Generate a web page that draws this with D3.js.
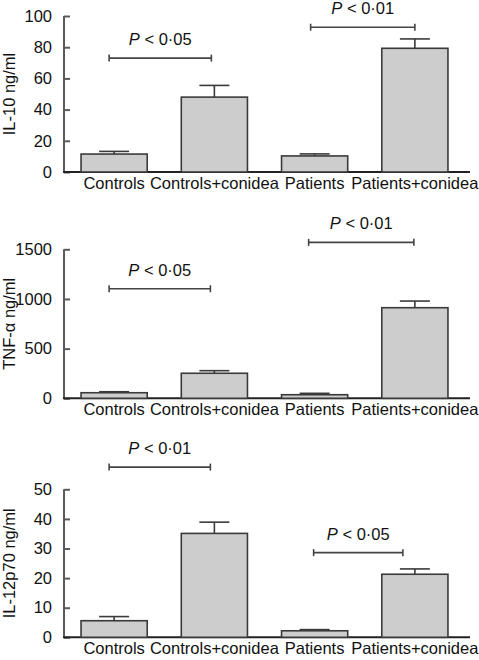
<!DOCTYPE html>
<html>
<head>
<meta charset="utf-8">
<script src="https://cdn.jsdelivr.net/npm/d3@7"></script>
<style>
  html, body { margin: 0; padding: 0; background: #fff; }
  svg { display: block; font-family: "Liberation Sans", Arial, Helvetica, sans-serif; }
</style>
</head>
<body>
<svg id="chart" width="479" height="660"></svg>
<script>
// ---- data ----
const categories = ["Controls", "Controls+conidea", "Patients", "Patients+conidea"];

const il10Means  = [11.5, 48, 10.3, 79.3];
const il10Errors = [1.7, 7.5, 1.3, 6];
const il10Ticks  = [0, 20, 40, 60, 80, 100];

const tnfMeans  = [56, 252, 36, 912];
const tnfErrors = [10, 26, 14, 67];
const tnfTicks  = [0, 500, 1000, 1500];

const il12Means  = [5.6, 35.1, 2.2, 21.3];
const il12Errors = [1.4, 3.8, 0.4, 1.8];
const il12Ticks  = [0, 10, 20, 30, 40, 50];

const yLabels = ["IL-10 ng/ml", "TNF-\u03b1 ng/ml", "IL-12p70 ng/ml"];

// significance brackets: [fromCategory, toCategory, yValue, p-text]
const il10Sig = [["Controls", "Controls+conidea", 73, "< 0\u00b705"], ["Patients", "Patients+conidea", 92.8, "< 0\u00b701"]];
const tnfSig  = [["Controls", "Controls+conidea", 1103, "< 0\u00b705"], ["Patients", "Patients+conidea", 1570, "< 0\u00b701"]];
const il12Sig = [["Controls", "Controls+conidea", 57.5, "< 0\u00b701"], ["Patients", "Patients+conidea", 28.6, "< 0\u00b705"]];

// ---- layout (positions / styles) ----
const panels = [
  { means: il10Means, errors: il10Errors, ticks: il10Ticks, label: yLabels[0], sig: il10Sig, top: 16, bottom: 172, sigOffsets: [[-5, -3], [-4, 0]] },
  { means: tnfMeans,  errors: tnfErrors,  ticks: tnfTicks,  label: yLabels[1], sig: tnfSig,  top: 249.3, bottom: 398.3, sigOffsets: [[-5, -4], [-6, -1]] },
  { means: il12Means, errors: il12Errors, ticks: il12Ticks, label: yLabels[2], sig: il12Sig, top: 489.3, bottom: 637.3, sigOffsets: [[-5, -4], [-1, -12]] }
];
const axisX = 64, axisColor = "#5a5a5a", barStroke = "#3a3a3a", barFill = "#cdcdcd";
const fontSize = 16.5;

const svg = d3.select("#chart");
const x = d3.scaleBand().domain(categories).range([64, 465]).paddingInner(0.34).paddingOuter(0.17);

panels.forEach(p => {
  const domainMax = p.ticks[p.ticks.length - 1];
  const y = d3.scaleLinear().domain([0, domainMax]).range([p.bottom, p.top]);
  const g = svg.append("g");

  // y axis line
  g.append("line").attr("x1", axisX).attr("x2", axisX).attr("y1", p.top).attr("y2", p.bottom)
    .attr("stroke", axisColor).attr("stroke-width", 2);
  // y ticks (inward)
  const yAxis = g.append("g").attr("transform", `translate(${axisX},0)`)
    .call(d3.axisLeft(y).tickValues(p.ticks).tickSize(-6).tickPadding(12).tickFormat(d3.format("d")));
  yAxis.select(".domain").remove();
  yAxis.selectAll(".tick line").attr("stroke", axisColor).attr("stroke-width", 2);
  yAxis.selectAll(".tick text").attr("font-size", fontSize).attr("fill", "#111")
    .attr("font-family", "Liberation Sans, Arial, sans-serif");

  // baseline
  g.append("line").attr("x1", axisX - 1).attr("x2", 470).attr("y1", p.bottom).attr("y2", p.bottom)
    .attr("stroke", "#222").attr("stroke-width", 2);

  // bars
  const data = categories.map((c, i) => ({ c, m: p.means[i], e: p.errors[i] }));
  // error bars
  const eb = g.selectAll(".eb").data(data).enter().append("g");
  eb.append("line")
    .attr("x1", d => x(d.c) + x.bandwidth() / 2).attr("x2", d => x(d.c) + x.bandwidth() / 2)
    .attr("y1", d => y(d.m)).attr("y2", d => y(d.m + d.e))
    .attr("stroke", barStroke).attr("stroke-width", 1.6);
  eb.append("line")
    .attr("x1", d => x(d.c) + x.bandwidth() / 2 - 15).attr("x2", d => x(d.c) + x.bandwidth() / 2 + 15)
    .attr("y1", d => y(d.m + d.e)).attr("y2", d => y(d.m + d.e))
    .attr("stroke", barStroke).attr("stroke-width", 1.6);
  g.selectAll(".bar").data(data).enter().append("rect")
    .attr("x", d => x(d.c)).attr("width", x.bandwidth())
    .attr("y", d => y(d.m)).attr("height", d => p.bottom - y(d.m))
    .attr("fill", barFill).attr("stroke", barStroke).attr("stroke-width", 1.6);

  // x labels
  g.selectAll(".xl").data(categories).enter().append("text")
    .attr("x", d => x(d) + x.bandwidth() / 2).attr("y", p.bottom + 17)
    .attr("text-anchor", "middle").attr("font-size", fontSize).attr("fill", "#111")
    .text(d => d);

  // y label
  g.append("text").attr("transform", `translate(15,${(p.top + p.bottom) / 2}) rotate(-90)`)
    .attr("text-anchor", "middle").attr("font-size", fontSize).attr("fill", "#111")
    .text(p.label);

  // significance brackets
  p.sig.forEach((s, i) => {
    const off = p.sigOffsets[i];
    const x1 = x(s[0]) + x.bandwidth() / 2 + off[0];
    const x2 = x(s[1]) + x.bandwidth() / 2 + off[1];
    const yy = y(s[2]);
    g.append("line").attr("x1", x1).attr("x2", x2).attr("y1", yy).attr("y2", yy)
      .attr("stroke", "#444").attr("stroke-width", 1.6);
    [x1, x2].forEach(xx => g.append("line").attr("x1", xx).attr("x2", xx).attr("y1", yy - 3.5).attr("y2", yy + 3.5)
      .attr("stroke", "#444").attr("stroke-width", 1.6));
    const t = g.append("text").attr("x", (x1 + x2) / 2).attr("y", yy - 13)
      .attr("text-anchor", "middle").attr("font-size", fontSize).attr("fill", "#111");
    t.append("tspan").attr("font-style", "italic").text("P");
    t.append("tspan").text(" " + s[3]);
  });
});
</script>
</body>
</html>
